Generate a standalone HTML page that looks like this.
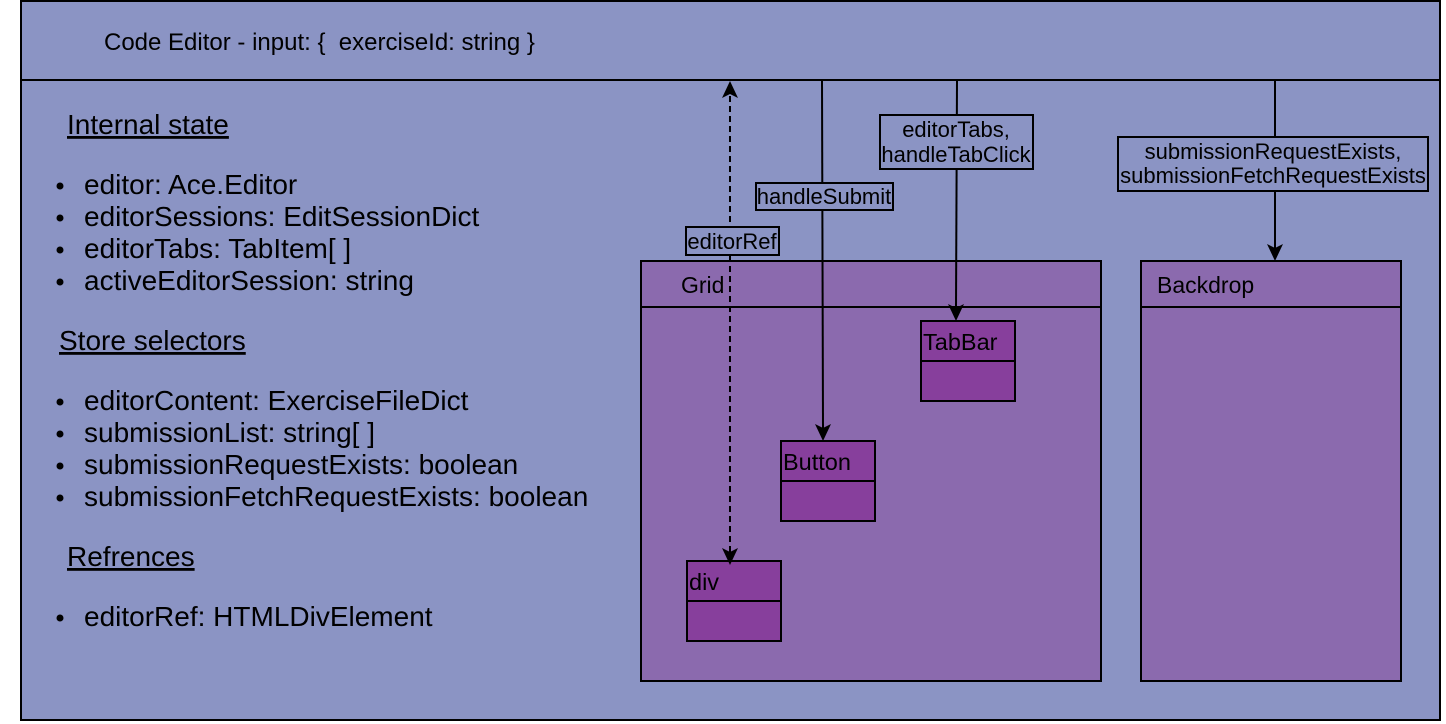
<!DOCTYPE html>
<html><head><style>html,body{margin:0;padding:0;background:#fff}svg{display:block}text{font-family:"Liberation Sans",Arial,sans-serif;fill:#000}</style></head>
<body>
<svg width="1446" height="724" viewBox="0 0 1446 724" xmlns="http://www.w3.org/2000/svg">
<rect x="21" y="1" width="1419" height="719" fill="#8b94c4" stroke="#000" stroke-width="2"/>
<line x1="21" y1="80" x2="1440" y2="80" stroke="#000" stroke-width="2"/>
<text x="104" y="50" font-size="24" xml:space="preserve">Code Editor - input: {  exerciseId: string }</text>
<g font-size="28">
<text x="67" y="134" text-decoration="underline">Internal state</text>
<text x="84" y="194">editor: Ace.Editor</text>
<text x="84" y="226">editorSessions: EditSessionDict</text>
<text x="84" y="258">editorTabs: TabItem[ ]</text>
<text x="84" y="290">activeEditorSession: string</text>
<text x="59" y="350" text-decoration="underline">Store selectors</text>
<text x="84" y="410">editorContent: ExerciseFileDict</text>
<text x="84" y="442">submissionList: string[ ]</text>
<text x="84" y="474">submissionRequestExists: boolean</text>
<text x="84" y="506">submissionFetchRequestExists: boolean</text>
<text x="67" y="566" text-decoration="underline">Refrences</text>
<text x="84" y="626">editorRef: HTMLDivElement</text>
</g>
<g fill="#000">
<circle cx="60" cy="186" r="3.5"/><circle cx="60" cy="218" r="3.5"/><circle cx="60" cy="250" r="3.5"/><circle cx="60" cy="282" r="3.5"/>
<circle cx="60" cy="402" r="3.5"/><circle cx="60" cy="434" r="3.5"/><circle cx="60" cy="466" r="3.5"/><circle cx="60" cy="498" r="3.5"/>
<circle cx="60" cy="618" r="3.5"/>
</g>
<rect x="641" y="261" width="460" height="420" fill="#8b6aae" stroke="#000" stroke-width="2"/>
<line x1="641" y1="307" x2="1101" y2="307" stroke="#000" stroke-width="2"/>
<text x="681" y="293" font-size="23">Grid</text>
<rect x="1141" y="261" width="260" height="420" fill="#8b6aae" stroke="#000" stroke-width="2"/>
<line x1="1141" y1="307" x2="1401" y2="307" stroke="#000" stroke-width="2"/>
<text x="1157" y="293" font-size="23">Backdrop</text>
<g stroke="#000" stroke-width="2" fill="#873f9c">
<rect x="921" y="321" width="94" height="80"/><line x1="921" y1="361" x2="1015" y2="361"/>
<rect x="781" y="441" width="94" height="80"/><line x1="781" y1="481" x2="875" y2="481"/>
<rect x="687" y="561" width="94" height="80"/><line x1="687" y1="601" x2="781" y2="601"/>
</g>
<g font-size="23.5">
<text x="923" y="350">TabBar</text>
<text x="783" y="470">Button</text>
<text x="689" y="590">div</text>
</g>
<g stroke="#000" stroke-width="2" fill="none">
<line x1="730" y1="552" x2="730" y2="95" stroke-dasharray="6,4"/>
<line x1="822" y1="81" x2="823" y2="428"/>
<line x1="957" y1="81" x2="956" y2="308"/>
<line x1="1275" y1="81" x2="1275" y2="248"/>
</g>
<g fill="#000">
<path d="M722,98 L730,81 L738,98 L730,94 Z"/>
<path d="M722,548 L730,565 L738,548 L730,552 Z"/>
<path d="M815,424 L823,441 L831,424 L823,428 Z"/>
<path d="M948,304 L956,321 L964,304 L956,308 Z"/>
<path d="M1267,244 L1275,261 L1283,244 L1275,248 Z"/>
</g>
<g stroke="#000" stroke-width="2" fill="#8b94c4">
<rect x="686" y="227" width="93" height="28"/>
<rect x="756" y="183" width="137" height="27"/>
<rect x="880" y="115" width="153" height="54"/>
<rect x="1118" y="137" width="310" height="54"/>
</g>
<g font-size="22" text-anchor="middle">
<text x="732" y="249">editorRef</text>
<text x="824" y="204">handleSubmit</text>
<text x="956" y="137">editorTabs,</text>
<text x="956" y="162">handleTabClick</text>
<text x="1273" y="159">submissionRequestExists,</text>
<text x="1273" y="183">submissionFetchRequestExists</text>
</g>
</svg>
</body></html>
